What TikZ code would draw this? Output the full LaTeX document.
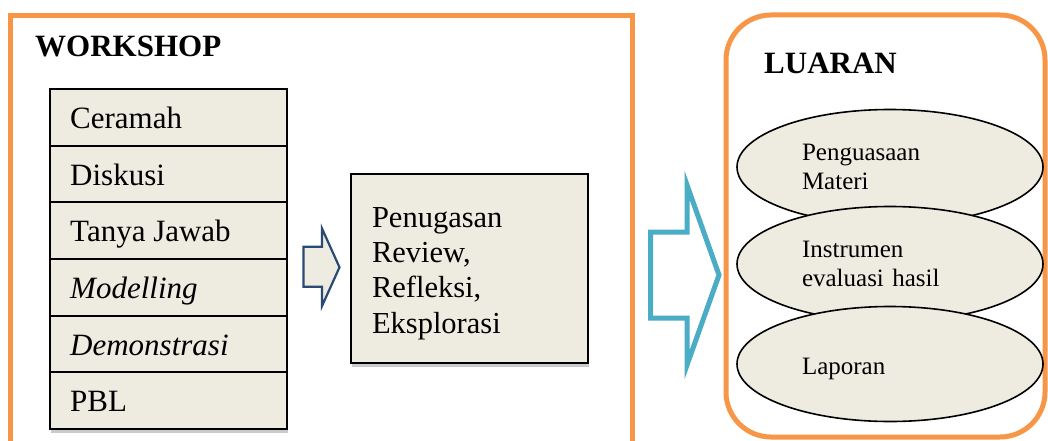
\documentclass[tikz,border=0pt]{standalone}
\usepackage{fontspec}
\setmainfont{Liberation Serif}
\usetikzlibrary{positioning,shapes.geometric,shadows}

\definecolor{frameorange}{HTML}{F79646}
\definecolor{boxtan}{HTML}{EEECE1}
\definecolor{arrowblue}{HTML}{2B4A73}
\definecolor{arrowcyan}{HTML}{4BACC6}

\begin{document}
\begin{tikzpicture}[x=1pt, y=-1pt,
  frame/.style={draw=frameorange, line width=5pt},
  title/.style={anchor=west, inner sep=0pt, font=\fontsize{31}{34}\selectfont\bfseries},
  rowbox/.style={draw=black, line width=2pt, fill=boxtan, minimum width=237pt, minimum height=56.67pt, inner sep=0pt, outer sep=0pt,
    drop shadow={shadow xshift=1pt, shadow yshift=-4pt, opacity=0.35, fill=black!60}},
  rowtext/.style={anchor=west, inner sep=0pt, text height=22pt, text depth=0pt, font=\fontsize{31}{34}\selectfont},
  taskbox/.style={draw=black, line width=2pt, fill=boxtan, minimum width=237pt, minimum height=189pt,
    text width=195pt, inner xsep=21pt, align=left, font=\fontsize{30.5}{35.4}\selectfont,
    drop shadow={shadow xshift=1pt, shadow yshift=-4pt, opacity=0.35, fill=black!60}},
  result/.style={ellipse, draw=black, line width=1.6pt, fill=boxtan, minimum width=306pt, minimum height=115pt,
    text width=176pt, inner sep=0pt, align=left, font=\fontsize{25}{29}\selectfont}]

\useasboundingbox (0,0) rectangle (1048,441);

% Define the coordinates for the corners of the frames
\coordinate (ws-nw) at (10.5,15.5);
\coordinate (ws-se) at (632,470);
\coordinate (lu-nw) at (726,15);
\coordinate (lu-se) at (1045,437);

% Draw the two orange frames
\draw[frame] (ws-nw) rectangle (ws-se);
\draw[frame, rounded corners=45pt] (lu-nw) rectangle (lu-se);

% Titles of the frames
\node[title] (workshop) at (35,46) {WORKSHOP};
\node[title] (luaran) at (764,63) {LUARAN};

% Stack of methods
\node[rowbox, anchor=north west] (ceramah) at (50,89) {};
\node[rowbox, below=0pt of ceramah] (diskusi) {};
\node[rowbox, below=0pt of diskusi] (tanya) {};
\node[rowbox, below=0pt of tanya] (modelling) {};
\node[rowbox, below=0pt of modelling] (demo) {};
\node[rowbox, below=0pt of demo] (pbl) {};

\node[rowtext, xshift=20pt] at (ceramah.west) {Ceramah};
\node[rowtext, xshift=20pt] at (diskusi.west) {Diskusi};
\node[rowtext, xshift=20pt] at (tanya.west) {Tanya Jawab};
\node[rowtext, xshift=20pt] at (modelling.west) {\itshape Modelling};
\node[rowtext, xshift=20pt] at (demo.west) {\itshape Demonstrasi};
\node[rowtext, xshift=20pt] at (pbl.west) {PBL};

% Box with the tasks
\node[taskbox] (tugas) at (469.5,268.5) {\rule{0pt}{30pt}Penugasan\\Review,\\Refleksi,\\Eksplorasi};

% Small block arrow between the stack and the tasks
\coordinate (sa1) at (303.5,246.7);
\coordinate (sa2) at (322,246.7);
\coordinate (sa3) at (322,228.5);
\coordinate (sa4) at (339.5,267.3);
\coordinate (sa5) at (322,306);
\coordinate (sa6) at (322,286.7);
\coordinate (sa7) at (303.5,286.7);
\draw[draw=arrowblue, line width=2.2pt, fill=boxtan, line join=miter]
  (sa1) -- (sa2) -- (sa3) -- (sa4) -- (sa5) -- (sa6) -- (sa7) -- cycle;

% Big block arrow between the frames
\coordinate (ba1) at (650.5,232);
\coordinate (ba2) at (687,232);
\coordinate (ba3) at (687,185);
\coordinate (ba4) at (719,275);
\coordinate (ba5) at (687,365);
\coordinate (ba6) at (687,318);
\coordinate (ba7) at (650.5,318);
\draw[draw=arrowcyan, line width=5pt, fill=white, line join=miter]
  (ba1) -- (ba2) -- (ba3) -- (ba4) -- (ba5) -- (ba6) -- (ba7) -- cycle;

% Results as overlapping ellipses
\node[result] (materi) at (890,167) {Penguasaan\\Materi};
\node[result] (instrumen) at (890,264) {Instrumen\\evaluasi hasil};
\node[result] (laporan) at (890,364) {\raisebox{-5pt}[\height][\depth]{Laporan}};

\end{tikzpicture}
\end{document}
